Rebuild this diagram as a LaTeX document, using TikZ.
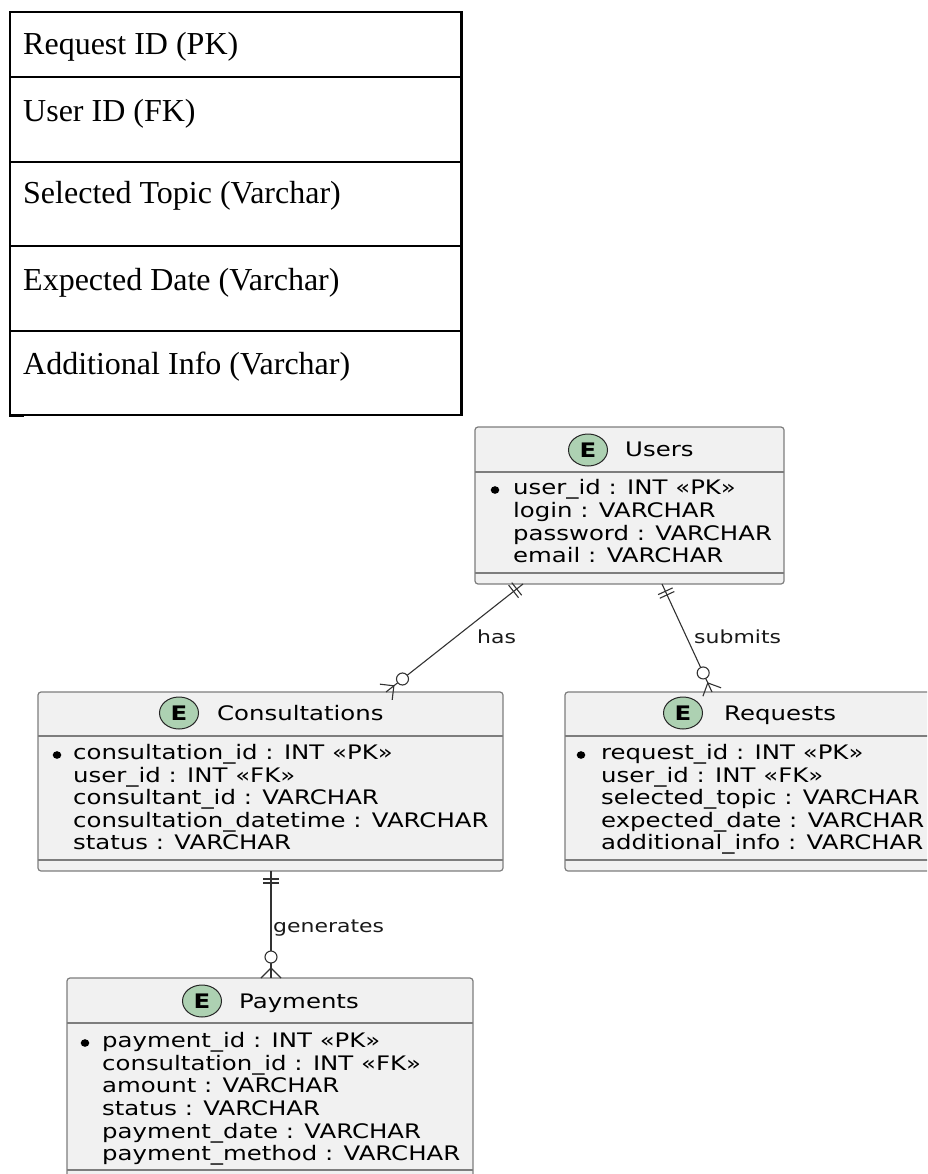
\documentclass[tikz,border=0pt]{standalone}
\usepackage{fontspec}
\setmainfont{Liberation Serif}
\newfontfamily\umlfont[FakeStretch=1.22]{DejaVu Sans}
\usetikzlibrary{calc,shapes.geometric}
\definecolor{boxfill}{HTML}{F1F1F1}
\definecolor{boxline}{RGB}{125,125,125}
\definecolor{efill}{HTML}{ADD1B2}
\definecolor{conncol}{RGB}{50,50,50}
\tikzset{
  tblline/.style={line width=2.6pt, draw=black},
  tbltext/.style={anchor=base west, inner sep=0pt, font=\fontsize{32}{36}\selectfont},
  entbox/.style={draw=boxline, fill=boxfill, line width=1.2pt, rounded corners=3pt, inner sep=0pt, outer sep=0pt, anchor=north west},
  sepline/.style={draw=boxline, line width=1.2pt},
  ecirc/.style={ellipse, draw=black!85, line width=1pt, fill=efill, minimum width=39pt, minimum height=32pt, inner sep=0pt, font=\umlfont\fontsize{20}{22}\selectfont\bfseries},
  etitle/.style={anchor=base west, inner sep=0pt, font=\umlfont\fontsize{20}{22}\selectfont},
  attr/.style={anchor=base west, inner sep=0pt, font=\umlfont\fontsize{20}{22}\selectfont},
  lbl/.style={anchor=base west, inner sep=0pt, font=\umlfont\fontsize{18}{20}\selectfont, text=black!90},
  conn/.style={draw=conncol, line width=1.1pt},
  pkdot/.style={fill=black},
}
% one-mandatory at #1, zero-or-many at #2
\newcommand\erlink[2]{%
  \coordinate (tA) at ($(#1)!8pt!(#2)$);
  \coordinate (tB) at ($(#1)!12pt!(#2)$);
  \draw[conn] ($(tA)!8pt!90:(#2)$) -- ($(tA)!8pt!-90:(#2)$);
  \draw[conn] ($(tB)!8pt!90:(#2)$) -- ($(tB)!8pt!-90:(#2)$);
  \coordinate (cc) at ($(#2)!21pt!(#1)$);
  \coordinate (cp) at ($(#2)!10pt!(#1)$);
  \draw[conn] (#1) -- ($(#2)!27pt!(#1)$);
  \draw[conn] (cc) circle[radius=6pt];
  \draw[conn] ($(#2)!15pt!(#1)$) -- (cp);
  \draw[conn] (cp) -- (#2);
  \draw[conn] (cp) -- ($(#2)!10pt!90:(#1)$);
  \draw[conn] (cp) -- ($(#2)!10pt!-90:(#1)$);
}
\begin{document}
\begin{tikzpicture}[x=1pt,y=-1pt]
\path[use as bounding box, clip] (0,0) rectangle (927,1174);

% ---------- top table ----------
\draw[tblline] (10,12) rectangle (461.5,415);
\draw[tblline] (10,77) -- (461.5,77);
\draw[tblline] (10,162) -- (461.5,162);
\draw[tblline] (10,246) -- (461.5,246);
\draw[tblline] (10,331) -- (461.5,331);
\draw[line width=2pt] (9,416) -- (24,416);
\node[tbltext] (t1) at (23,55) {Request ID (PK)};
\node[tbltext] (t2) at (23,122) {User ID (FK)};
\node[tbltext] (t3) at (23,204) {Selected Topic (Varchar)};
\node[tbltext] (t4) at (23,290) {Expected Date (Varchar)};
\node[tbltext] (t5) at (23,374) {Additional Info (Varchar)};

% ---------- Users ----------
\node[entbox, minimum width=309pt, minimum height=157pt] (users) at (475,427) {};
\draw[sepline] ($(users.north west)+(0,45)$) -- ($(users.north east)+(0,45)$);
\draw[sepline] ($(users.south west)+(0,-11)$) -- ($(users.south east)+(0,-11)$);
\node[ecirc] (usersE) at (588,450) {E};
\node[etitle] (usersT) at (625,456) {Users};
\fill[pkdot] (495,490) ellipse[x radius=4.3pt, y radius=3.8pt];
\node[attr] (u1) at (513,494) {user\_id : INT «PK»};
\node[attr] (u2) at (513,517) {login : VARCHAR};
\node[attr] (u3) at (513,540) {password : VARCHAR};
\node[attr] (u4) at (513,562) {email : VARCHAR};

% ---------- Consultations ----------
\node[entbox, minimum width=465pt, minimum height=179pt] (cons) at (38,692) {};
\draw[sepline] ($(cons.north west)+(0,44)$) -- ($(cons.north east)+(0,44)$);
\draw[sepline] ($(cons.south west)+(0,-11)$) -- ($(cons.south east)+(0,-11)$);
\node[ecirc] (consE) at (179,713) {E};
\node[etitle] (consT) at (217,720) {Consultations};
\fill[pkdot] (57,755) ellipse[x radius=4.3pt, y radius=3.8pt];
\node[attr] (c1) at (73,759) {consultation\_id : INT «PK»};
\node[attr] (c2) at (73,782) {user\_id : INT «FK»};
\node[attr] (c3) at (73,804) {consultant\_id : VARCHAR};
\node[attr] (c4) at (73,827) {consultation\_datetime : VARCHAR};
\node[attr] (c5) at (73,849) {status : VARCHAR};

% ---------- Requests ----------
\node[entbox, minimum width=375pt, minimum height=179pt] (req) at (565,692) {};
\draw[sepline] ($(req.north west)+(0,44)$) -- ($(req.north east)+(0,44)$);
\draw[sepline] ($(req.south west)+(0,-11)$) -- ($(req.south east)+(0,-11)$);
\node[ecirc] (reqE) at (683,713) {E};
\node[etitle] (reqT) at (724,720) {Requests};
\fill[pkdot] (581,755) ellipse[x radius=4.3pt, y radius=3.8pt];
\node[attr] (r1) at (601,759) {request\_id : INT «PK»};
\node[attr] (r2) at (601,782) {user\_id : INT «FK»};
\node[attr] (r3) at (601,804) {selected\_topic : VARCHAR};
\node[attr] (r4) at (601,827) {expected\_date : VARCHAR};
\node[attr] (r5) at (601,849) {additional\_info : VARCHAR};

% ---------- Payments ----------
\node[entbox, minimum width=406pt, minimum height=212pt] (pay) at (67,978) {};
\draw[sepline] ($(pay.north west)+(0,45)$) -- ($(pay.north east)+(0,45)$);
\draw[sepline] (67,1170) -- (473,1170);
\node[ecirc] (payE) at (202,1001) {E};
\node[etitle] (payT) at (239,1008) {Payments};
\fill[pkdot] (85,1043) ellipse[x radius=4.3pt, y radius=3.8pt];
\node[attr] (p1) at (102,1047) {payment\_id : INT «PK»};
\node[attr] (p2) at (102,1070) {consultation\_id : INT «FK»};
\node[attr] (p3) at (102,1092) {amount : VARCHAR};
\node[attr] (p4) at (102,1115) {status : VARCHAR};
\node[attr] (p5) at (102,1138) {payment\_date : VARCHAR};
\node[attr] (p6) at (102,1160) {payment\_method : VARCHAR};

% ---------- connectors ----------
\coordinate (uHas) at ($(users.south west)+(48,0)$);
\coordinate (cHas) at ($(cons.north west)+(348,0)$);
\coordinate (uSub) at ($(users.south west)+(187,0)$);
\coordinate (rSub) at ($(req.north west)+(147,0)$);
\coordinate (cGen) at ($(cons.south west)+(233,0)$);
\coordinate (pGen) at ($(pay.north west)+(204,0)$);
\erlink{uHas}{cHas}
\erlink{uSub}{rSub}
\erlink{cGen}{pGen}
\node[lbl] (hasL) at (477,643) {has};
\node[lbl] (subL) at (694,643) {submits};
\node[lbl] (genL) at (273,932) {generates};
\end{tikzpicture}
\end{document}
